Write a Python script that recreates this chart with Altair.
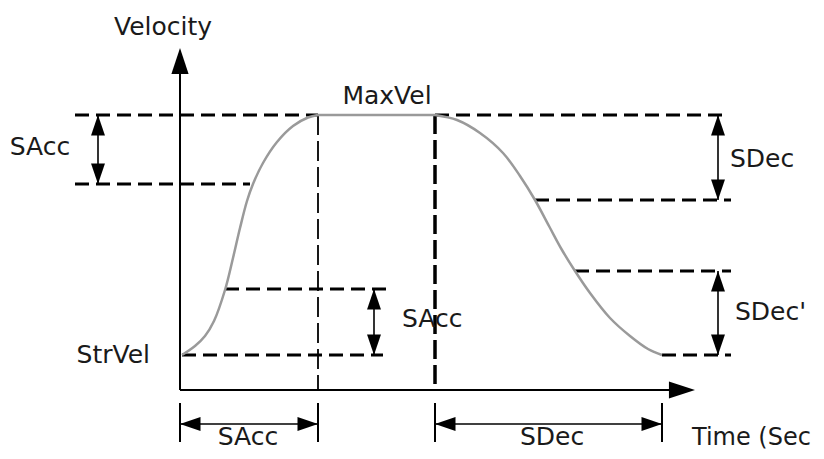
import altair as alt
import pandas as pd

# ---- data (time units on x, velocity units on y) ----
# S-curve velocity profile: acceleration, constant velocity, deceleration
acc_t = [0.2, 1.5, 2.5, 3.4, 4.5, 5.3, 6.0, 6.7, 7.3, 8.3, 9.7, 11.3, 12.8, 13.8]
acc_v = [3.5, 4.4, 5.4, 6.9, 10.0, 13.2, 16.2, 18.9, 20.6, 22.7, 24.8, 26.4, 27.25, 27.5]
flat_t = [13.8, 25.5]
flat_v = [27.5, 27.5]
dec_t = [25.5, 27.7, 30.0, 32.3, 34.0, 35.5, 36.9, 38.2, 39.5, 41.0, 43.0, 45.0, 46.8, 48.2]
dec_v = [27.5, 27.0, 25.7, 23.7, 21.4, 19.0, 16.4, 14.0, 11.9, 9.7, 7.2, 5.4, 4.1, 3.5]

# key levels / instants
V_MAX, V_STR = 27.5, 3.5
V_SACC_HI, V_SACC_LO = 20.6, 10.1
V_SDEC_HI, V_SDEC_LO = 19.0, 11.9
T_ACC, T_DEC0, T_DEC1 = 13.8, 25.5, 48.2

# dashed horizontal guides
guide_t1 = [-10.5, 25.5, -10.5, 4.5, 0.2, 35.5, 39.5, 48.2]
guide_t2 = [13.8, 54.8, 7.0, 20.7, 20.3, 55.1, 55.1, 55.1]
guide_v = [V_MAX, V_MAX, V_SACC_HI, V_SACC_LO, V_STR, V_SDEC_HI, V_SDEC_LO, V_STR]

# dimension arrows (vertical)
varr_t = [-8.2, 19.4, 53.8, 53.8]
varr_v1 = [V_MAX, V_SACC_LO, V_MAX, V_SDEC_LO]
varr_v2 = [V_SACC_HI, V_STR, V_SDEC_HI, V_STR]
# dimension arrows (horizontal, below time axis)
harr_v = -3.4
harr_t1 = [0.0, T_DEC0]
harr_t2 = [T_ACC, T_DEC1]
# extension ticks below the axis
tick_t = [0.0, T_ACC, T_DEC0, T_DEC1]
tick_v1, tick_v2 = -1.3, -5.2

# axes
Y_TOP, X_END = 34.2, 51.5

# labels
lab_text = ["Velocity", "SAcc", "MaxVel", "SDec", "SDec'", "SAcc", "StrVel", "SAcc", "SDec", "Time (Sec"]
lab_t = [-1.7, -14.0, 20.7, 55.0, 55.5, 22.2, -3.0, 6.8, 37.2, 51.2]
lab_v = [35.5, 23.5, 28.6, 22.3, 7.0, 6.3, 2.7, -5.5, -5.5, -5.5]
lab_align = ["center", "center", "center", "left", "left", "left", "right", "center", "center", "left"]
lab_size = [25, 25, 25, 25, 25, 25, 25, 25, 25, 24]

# ---- build ----
xs = alt.Scale(domain=[-17.2, 63.6], nice=False, zero=False)
ys = alt.Scale(domain=[-6.1, 38.2], nice=False, zero=False)


def X(f="t"):
    return alt.X(f"{f}:Q", scale=xs, axis=None)


def Y(f="v"):
    return alt.Y(f"{f}:Q", scale=ys, axis=None)


rows = []
for seg, ts, vs in (("acc", acc_t, acc_v), ("flat", flat_t, flat_v), ("dec", dec_t, dec_v)):
    for i, (t, v) in enumerate(zip(ts, vs)):
        rows.append({"seg": seg, "i": i, "t": t, "v": v})
curve = pd.DataFrame(rows)
curve_layer = alt.Chart(curve).mark_line(
    color="#9a9a9a", strokeWidth=2.5, interpolate="catmull-rom"
).encode(x=X(), y=Y(), detail="seg:N", order="i:Q")

guides = pd.DataFrame({"t1": guide_t1, "t2": guide_t2, "v": guide_v})
guide_layer = alt.Chart(guides).mark_rule(
    color="black", strokeWidth=3, strokeDash=[14, 7]
).encode(x=X("t1"), x2="t2:Q", y=Y())

vthin = pd.DataFrame({"t": [T_ACC], "v1": [V_MAX], "v2": [0.0]})
vthin_layer = alt.Chart(vthin).mark_rule(
    color="black", strokeWidth=1.8, strokeDash=[20, 6]
).encode(x=X(), y=Y("v1"), y2="v2:Q")

vthick = pd.DataFrame({"t": [T_DEC0], "v1": [V_MAX], "v2": [0.0]})
vthick_layer = alt.Chart(vthick).mark_rule(
    color="black", strokeWidth=3.5, strokeDash=[19, 6]
).encode(x=X(), y=Y("v1"), y2="v2:Q")

ticks = pd.DataFrame({"t": tick_t, "v1": [tick_v1] * 4, "v2": [tick_v2] * 4})
tick_layer = alt.Chart(ticks).mark_rule(color="black", strokeWidth=2).encode(
    x=X(), y=Y("v1"), y2="v2:Q"
)

vshaft = pd.DataFrame({"t": varr_t, "v1": varr_v1, "v2": varr_v2})
vshaft_layer = alt.Chart(vshaft).mark_rule(color="black", strokeWidth=1.6).encode(
    x=X(), y=Y("v1"), y2="v2:Q"
)
hshaft = pd.DataFrame({"t1": harr_t1, "t2": harr_t2, "v": [harr_v] * 2})
hshaft_layer = alt.Chart(hshaft).mark_rule(color="black", strokeWidth=1.6).encode(
    x=X("t1"), x2="t2:Q", y=Y()
)

# axes lines
axes = pd.DataFrame({"t1": [0.0, 0.0], "t2": [0.0, X_END - 1.5], "v1": [0.0, 0.0], "v2": [Y_TOP - 2.2, 0.0]})
axes_layer = alt.Chart(axes).mark_rule(color="black", strokeWidth=2).encode(
    x=X("t1"), x2="t2:Q", y=Y("v1"), y2="v2:Q"
)

# arrow heads (tip at the point, rotated by angle)
head_t, head_v, head_a = [], [], []
for t, a, b in zip(varr_t, varr_v1, varr_v2):
    head_t += [t, t]
    head_v += [a, b]
    head_a += [0, 180]
for a, b in zip(harr_t1, harr_t2):
    head_t += [a, b]
    head_v += [harr_v, harr_v]
    head_a += [270, 90]
heads = pd.DataFrame({"t": head_t, "v": head_v, "a": head_a})
head_layer = alt.Chart(heads).mark_point(
    shape="M0,0L0.68,2L-0.68,2Z", filled=True, color="black", opacity=1, size=420, strokeWidth=0
).encode(x=X(), y=Y(), angle=alt.Angle("a:Q", scale=None))

axheads = pd.DataFrame({"t": [0.0, X_END], "v": [Y_TOP, 0.0], "a": [0, 90]})
axhead_layer = alt.Chart(axheads).mark_point(
    shape="M0,0L0.66,2L-0.66,2Z", filled=True, color="black", opacity=1, size=680, strokeWidth=0
).encode(x=X(), y=Y(), angle=alt.Angle("a:Q", scale=None))

labels = pd.DataFrame({"txt": lab_text, "t": lab_t, "v": lab_v, "al": lab_align, "fs": lab_size})
text_layers = []
for al in ["center", "left", "right"]:
    sub = labels[labels["al"] == al]
    text_layers.append(
        alt.Chart(sub).mark_text(
            font="DejaVu Sans", color="#1a1a1a", align=al, baseline="alphabetic"
        ).encode(x=X(), y=Y(), text="txt:N", size=alt.Size("fs:Q", scale=None, legend=None))
    )

chart = alt.layer(
    guide_layer, vthin_layer, vthick_layer, curve_layer, axes_layer, tick_layer,
    vshaft_layer, hshaft_layer, head_layer, axhead_layer, *text_layers
).properties(
    width=808, height=443, padding=0, autosize=alt.AutoSizeParams(type="none"),
    background="white"
).configure_view(stroke=None)

chart.save("out.html", embed_options={"renderer": "svg", "actions": False})
